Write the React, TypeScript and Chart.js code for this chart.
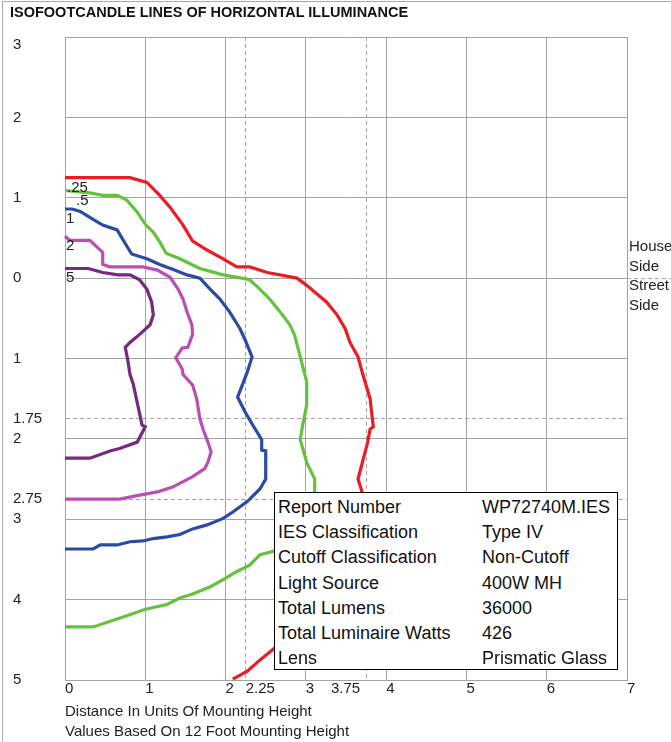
import React, { useEffect, useRef } from 'react';
import { Chart, registerables } from 'chart.js';

Chart.register(...registerables);

// Axis ticks (y: positive = house side, negative = street side)
const xTickValues = [0, 1, 2, 2.25, 3, 3.75, 4, 5, 6, 7];
const xDashedValues = [2.25, 3.75];
const xRightAlignedLabels = [3.75];
const yTickValues = [3, 2, 1, 0, -1, -1.75, -2, -2.75, -3, -4, -5];
const yDashedValues = [-1.75, -2.75];
const yLoweredLabels = [3];

// Isofootcandle curves, [distance along road, distance across road]
const curve025: [number, number][] = [
  [0, 1.25], [0.81, 1.25], [1.02, 1.19], [1.18, 1.03], [1.31, 0.88], [1.47, 0.66], [1.59, 0.46],
  [1.77, 0.35], [1.97, 0.24], [2.14, 0.14], [2.3, 0.14], [2.52, 0.07], [2.89, 0.0], [3.01, -0.09],
  [3.26, -0.3], [3.39, -0.46], [3.49, -0.63], [3.55, -0.8], [3.65, -0.98], [3.71, -1.2], [3.8, -1.5],
  [3.84, -1.85], [3.8, -1.88], [3.77, -2.04], [3.65, -2.5], [3.7, -2.66], [3.67, -3.28], [3.3, -4.02],
  [2.6, -4.61], [2.43, -4.75], [2.27, -4.89], [2.09, -4.99],
];
const curve05: [number, number][] = [
  [0, 1.09], [0.31, 1.06], [0.47, 1.03], [0.65, 1.03], [0.77, 0.97], [0.9, 0.82], [1.0, 0.67],
  [1.1, 0.57], [1.18, 0.45], [1.26, 0.31], [1.43, 0.24], [1.68, 0.12], [1.97, 0.04], [2.2, 0.0],
  [2.3, -0.02], [2.43, -0.14], [2.55, -0.26], [2.68, -0.42], [2.8, -0.58], [2.86, -0.71], [2.93, -0.98],
  [3.01, -1.29], [3.01, -1.58], [2.96, -1.83], [2.93, -2.01], [3.01, -2.29], [3.11, -2.5], [3.11, -2.68],
  [3.13, -2.97], [2.99, -3.22], [2.74, -3.38], [2.59, -3.4], [2.43, -3.44], [2.3, -3.57], [2.14, -3.65],
  [1.97, -3.75], [1.81, -3.84], [1.59, -3.93], [1.43, -3.98], [1.27, -4.06], [1.0, -4.12], [0.77, -4.2],
  [0.35, -4.34], [0, -4.34],
];
const curve1: [number, number][] = [
  [0, 0.86], [0.09, 0.86], [0.19, 0.83], [0.35, 0.73], [0.47, 0.66], [0.65, 0.6], [0.72, 0.48],
  [0.83, 0.3], [1.02, 0.24], [1.18, 0.17], [1.34, 0.11], [1.52, 0.04], [1.68, 0.0], [1.81, -0.14],
  [1.93, -0.26], [2.05, -0.42], [2.18, -0.63], [2.24, -0.76], [2.33, -0.98], [2.27, -1.17], [2.15, -1.48],
  [2.24, -1.66], [2.34, -1.83], [2.45, -2.01], [2.45, -2.14], [2.5, -2.15], [2.5, -2.5], [2.43, -2.62],
  [2.27, -2.78], [2.09, -2.91], [1.97, -2.99], [1.77, -3.07], [1.59, -3.12], [1.43, -3.19], [1.27, -3.22],
  [1.1, -3.24], [0.97, -3.27], [0.81, -3.28], [0.65, -3.32], [0.44, -3.32], [0.35, -3.37], [0, -3.37],
];
const curve2: [number, number][] = [
  [0, 0.52], [0.06, 0.47], [0.31, 0.47], [0.47, 0.32], [0.47, 0.17], [0.56, 0.14], [0.97, 0.14],
  [1.15, 0.1], [1.31, 0.01], [1.41, -0.14], [1.47, -0.26], [1.52, -0.42], [1.58, -0.58], [1.59, -0.7],
  [1.53, -0.86], [1.46, -0.87], [1.38, -0.99], [1.46, -1.13], [1.47, -1.2], [1.59, -1.33], [1.64, -1.5],
  [1.68, -1.75], [1.72, -1.88], [1.78, -2.04], [1.82, -2.16], [1.78, -2.29], [1.74, -2.37], [1.59, -2.47],
  [1.34, -2.6], [1.15, -2.66], [0.93, -2.7], [0.68, -2.75], [0, -2.75],
];
const curve5: [number, number][] = [
  [0, 0.12], [0.29, 0.12], [0.47, 0.07], [0.66, 0.04], [0.81, 0.04], [0.93, -0.02], [1.02, -0.14],
  [1.08, -0.3], [1.1, -0.46], [1.06, -0.58], [0.93, -0.7], [0.81, -0.8], [0.75, -0.86], [0.78, -1.01],
  [0.81, -1.2], [0.85, -1.32], [0.96, -1.83], [1.0, -1.85], [0.9, -2.04], [0.68, -2.12], [0.56, -2.15],
  [0.31, -2.24], [0, -2.24],
];

const curveLabels = ['.25', '.5', '1', '2', '5'];
const curves = [curve025, curve05, curve1, curve2, curve5];
const curveColors = ['#ec1c24', '#66c23e', '#2a4aa6', '#b94fb3', '#76297f'];
const labelDx = [2, 11, 1, 1, 1];

const infoLabels = ['Report Number', 'IES Classification', 'Cutoff Classification', 'Light Source', 'Total Lumens', 'Total Luminaire Watts', 'Lens'];
const infoValues = ['WP72740M.IES', 'Type IV', 'Non-Cutoff', '400W MH', '36000', '426', 'Prismatic Glass'];

const FONT = '"Liberation Sans", Arial, sans-serif';
const GRID = '#a3a3a3';
const TICK_COLOR = '#222';
const HIDDEN = 'rgba(0,0,0,0)';

export default function App() {
  const canvasRef = useRef<HTMLCanvasElement | null>(null);

  useEffect(() => {
    document.body.style.margin = '0';
    const canvas = canvasRef.current;
    if (!canvas) return;

    const labelPlugin = {
      id: 'curveLabels',
      afterDatasetsDraw(chart: any) {
        const ctx = chart.ctx;
        ctx.save();
        ctx.font = `15px ${FONT}`;
        ctx.fillStyle = TICK_COLOR;
        ctx.textAlign = 'left';
        ctx.textBaseline = 'alphabetic';
        chart.data.datasets.forEach((ds: any, i: number) => {
          const meta = chart.getDatasetMeta(i);
          const p = meta.data[0];
          if (!p) return;
          ctx.fillText(ds.label, p.x + labelDx[i], p.y + 14);
        });
        ctx.restore();
      },
      afterDraw(chart: any) {
        const ctx = chart.ctx;
        const xs = chart.scales.x;
        const ys = chart.scales.y;
        const y = ys.getPixelForValue(0);
        ctx.save();
        ctx.strokeStyle = GRID;
        ctx.lineWidth = 1;
        ctx.setLineDash([4, 3]);
        ctx.beginPath();
        ctx.moveTo(chart.chartArea.right, y + 0.5);
        ctx.lineTo(chart.width, y + 0.5);
        ctx.stroke();
        ctx.setLineDash([]);
        ctx.font = `15px ${FONT}`;
        ctx.fillStyle = TICK_COLOR;
        // x labels placed to the left of their dashed guide line
        ctx.textAlign = 'right';
        ctx.textBaseline = 'top';
        xRightAlignedLabels.forEach((v) => {
          ctx.fillText(String(v), xs.getPixelForValue(v) - 6, xs.top + 1);
        });
        // y labels drawn just below their grid line
        ctx.textAlign = 'left';
        ctx.textBaseline = 'middle';
        yLoweredLabels.forEach((v) => {
          ctx.fillText(String(Math.abs(v)), ys.left, ys.getPixelForValue(v) + 8);
        });
        ctx.restore();
      },
    };

    const chart = new Chart(canvas, {
      type: 'line',
      data: {
        datasets: curves.map((c, i) => ({
          label: curveLabels[i],
          data: c.map(([x, y]) => ({ x, y })),
          borderColor: curveColors[i],
          backgroundColor: curveColors[i],
          borderWidth: 3.2,
          pointRadius: 0,
          tension: 0,
          fill: false,
          clip: false as any,
        })),
      },
      options: {
        animation: false,
        responsive: true,
        maintainAspectRatio: false,
        layout: { padding: { top: 37, right: 44, bottom: 0, left: 13 } },
        plugins: {
          legend: { display: false },
          tooltip: { enabled: false },
          title: { display: false },
        },
        scales: {
          x: {
            type: 'linear',
            min: 0,
            max: 7,
            afterBuildTicks: (scale: any) => {
              scale.ticks = xTickValues.map((v) => ({ value: v }));
            },
            afterFit: (scale: any) => {
              scale.height = 62;
            },
            ticks: {
              autoSkip: false,
              maxRotation: 0,
              align: 'start',
              padding: 0,
              color: (ctx: any) =>
                ctx.tick && xRightAlignedLabels.includes(ctx.tick.value) ? HIDDEN : TICK_COLOR,
              font: { family: FONT, size: 15 },
              callback: (v: any) => String(v),
            },
            grid: {
              color: GRID,
              lineWidth: 1,
              drawTicks: false,
            },
            border: {
              display: true,
              color: GRID,
              dash: (ctx: any) => (ctx.tick && xDashedValues.includes(ctx.tick.value) ? [4, 3] : []),
            },
          },
          y: {
            type: 'linear',
            min: -5,
            max: 3,
            afterBuildTicks: (scale: any) => {
              scale.ticks = yTickValues.map((v) => ({ value: v }));
            },
            afterFit: (scale: any) => {
              scale.width = 52;
            },
            ticks: {
              autoSkip: false,
              crossAlign: 'far',
              padding: 4,
              color: (ctx: any) =>
                ctx.tick && yLoweredLabels.includes(ctx.tick.value) ? HIDDEN : TICK_COLOR,
              font: { family: FONT, size: 15 },
              callback: (v: any) => String(Math.abs(Number(v))),
            },
            grid: {
              color: GRID,
              lineWidth: 1,
              drawTicks: false,
            },
            border: {
              display: true,
              color: GRID,
              dash: (ctx: any) => (ctx.tick && yDashedValues.includes(ctx.tick.value) ? [4, 3] : []),
            },
          },
        },
      } as any,
      plugins: [labelPlugin],
    });

    return () => chart.destroy();
  }, []);

  const textStyle: React.CSSProperties = {
    position: 'absolute',
    fontFamily: FONT,
    fontSize: 15,
    color: TICK_COLOR,
    whiteSpace: 'nowrap',
    lineHeight: '20px',
  };

  return (
    <div style={{ position: 'relative', width: 671, height: 742, overflow: 'hidden', background: '#fff' }}>
      <div
        style={{
          position: 'absolute',
          left: 2,
          top: 1,
          width: 671,
          height: 742,
          borderLeft: '1px solid #aaa',
          borderTop: '1px solid #aaa',
          pointerEvents: 'none',
        }}
      />
      <canvas ref={canvasRef} style={{ position: 'absolute', left: 0, top: 0, width: 671, height: 742 }} />
      <div style={{ ...textStyle, left: 10, top: 3, fontWeight: 'bold', fontSize: 14.5, lineHeight: '18px', color: '#111' }}>
        ISOFOOTCANDLE LINES OF HORIZONTAL ILLUMINANCE
      </div>
      <div style={{ ...textStyle, left: 629, top: 236 }}>House</div>
      <div style={{ ...textStyle, left: 629, top: 256 }}>Side</div>
      <div style={{ ...textStyle, left: 629, top: 275 }}>Street</div>
      <div style={{ ...textStyle, left: 629, top: 295 }}>Side</div>
      <div style={{ ...textStyle, left: 65, top: 701 }}>Distance In Units Of Mounting Height</div>
      <div style={{ ...textStyle, left: 65, top: 721 }}>Values Based On 12 Foot Mounting Height</div>
      <div
        style={{
          position: 'absolute',
          left: 274,
          top: 492,
          width: 342,
          height: 176,
          border: '1.5px solid #000',
          background: '#fff',
          fontFamily: FONT,
          fontSize: 18,
          color: '#111',
        }}
      >
        {infoLabels.map((lab, i) => (
          <div key={lab} style={{ position: 'absolute', left: 3, top: 2 + i * 25.2, height: 25, lineHeight: '25px', width: 338, whiteSpace: 'nowrap' }}>
            <span style={{ position: 'absolute', left: 0 }}>{lab}</span>
            <span style={{ position: 'absolute', left: 204 }}>{infoValues[i]}</span>
          </div>
        ))}
      </div>
    </div>
  );
}
